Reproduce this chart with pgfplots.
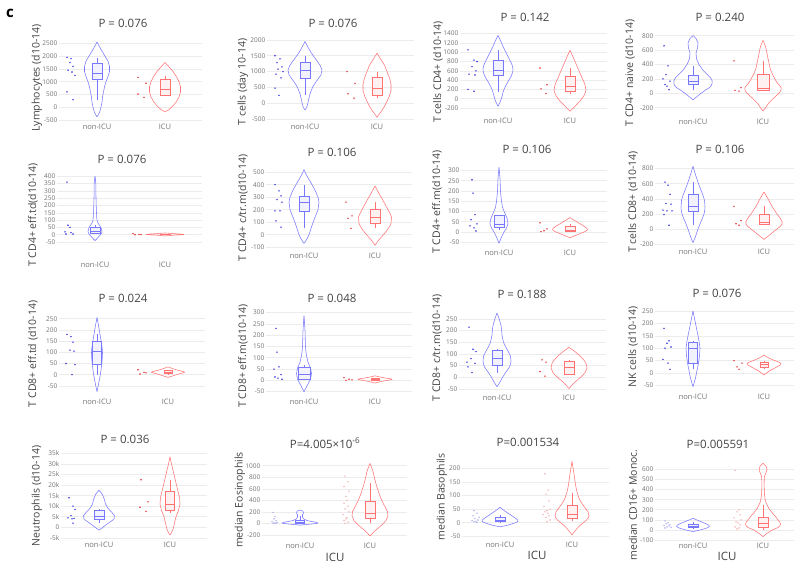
\documentclass[border=0pt]{standalone}
\usepackage{fontspec}
\setmainfont{Open Sans}
\usepackage{pgfplots}
\usepackage{pgfplotstable}
\pgfplotsset{compat=1.18}
\usepgfplotslibrary{statistics}
\definecolor{vb}{RGB}{120,120,255}
\definecolor{vr}{RGB}{255,115,115}
\definecolor{pb}{RGB}{60,60,225}
\definecolor{pr}{RGB}{230,60,60}
\definecolor{pbp}{RGB}{180,180,240}
\definecolor{prp}{RGB}{245,180,180}
\definecolor{tk}{RGB}{115,115,115}
\definecolor{tt}{RGB}{68,68,68}
\definecolor{gr}{RGB}{236,236,236}
\pgfplotsset{
 vp/.style={scale only axis, anchor=south west, xmin=-38, clip=false,
   axis line style={draw=none}, major tick style={draw=none},
   ymajorgrids, major grid style={draw=gr, line width=0.6pt},
   xticklabels={non-ICU,ICU},
   xticklabel style={font=\fontsize{7.5}{8}\selectfont, text=tk, inner ysep=2pt},
   yticklabel style={font=\fontsize{6.5}{7}\selectfont, text=tk, inner xsep=1.5pt},
   /pgf/number format/assume math mode=true,
   /pgf/number format/1000 sep={},
   scaled y ticks=false,
 },
 vl/.style={smooth, tension=0.7, line width=0.55pt, no marks, line join=round},
}
\tikzset{
 ttl/.style={font=\fontsize{11.5}{12}\selectfont, text=tt},
 ylab/.style={rotate=90, font=\fontsize{10.5}{11}\selectfont, text=tt},
}
\newcommand{\vio}[3]{\addplot[vl,#1] table[x expr={#2+\thisrow{w}},y=v]{#3};
\addplot[vl,#1] table[x expr={#2-\thisrow{w}},y=v]{#3};}
\newcommand{\bx}[8]{\addplot[#1,line width=0.55pt,fill=#1!10,boxplot prepared={draw direction=y,draw position=#2,box extend=#3,lower whisker=#4,lower quartile=#5,median=#6,upper quartile=#7,upper whisker=#8,whisker extend=0}] coordinates {};}
% points: colour, shift of the category, (offset,value) pairs
\newcommand{\pts}[3]{\addplot[only marks, mark=*, mark size=0.5pt, color=#1, x filter/.expression={x+#2}] coordinates {#3};}

\begin{document}
% ---------- violin outlines: v = value, w = half width (px) ----------
\pgfplotstableread{
v w
2550 0
2400 2
2200 5
2000 8
1800 11
1600 12.5
1400 12.5
1200 11
1000 9
800 7.5
600 6.5
400 5.5
200 5
0 4
-200 2.5
-370 0
}\vAn
\pgfplotstableread{
v w
1750 0
1600 3.5
1400 8
1200 11.5
1000 14
800 15.5
600 15.5
400 14
200 11
0 6.5
-100 3.5
-170 0
}\vAi
\pgfplotstableread{
v w
1950 0
1800 2.5
1600 6
1400 10.5
1200 15
1050 17
900 16
700 11.5
500 7.5
300 5
100 3.5
-100 2
-210 0
}\vBn
\pgfplotstableread{
v w
1580 0
1400 3.5
1200 7.5
1000 10
800 12.5
600 14
400 14
200 12
0 9
-200 5.5
-350 2
-440 0
}\vBi
\pgfplotstableread{
v w
1360 0
1250 2.5
1100 5.5
950 9
800 12.5
650 15
500 13.5
350 9.5
200 6
50 4
-50 2.5
-160 0
}\vCn
\pgfplotstableread{
v w
1040 0
900 3
750 6
600 9
450 12
300 15
180 16
50 13.5
-50 10
-150 5.5
-270 0
}\vCi
\pgfplotstableread{
v w
800 0
760 3
700 5
630 4.5
560 3
480 3.5
400 6
320 10
250 15
180 19
100 18
50 13
0 8
-50 3.5
-90 0
}\vDn
\pgfplotstableread{
v w
735 0
650 2.5
550 4
450 5.5
350 7
250 10
150 14
80 18
20 17
-50 12
-130 6
-200 2.5
-245 0
}\vDi
\pgfplotstableread{
v w
400 0
350 0.8
250 1
150 1.5
100 2
80 3
60 5
40 6.5
20 7
5 6
-15 3.5
-30 1.5
-40 0
}\vEn
\pgfplotstableread{
v w
12 0
8 8
4 16
2 19
0 16
-3 9
-8 0
}\vEi
\pgfplotstableread{
v w
520 0
470 3
400 8
330 12.5
260 15
200 14
130 10.5
50 7
0 5
-40 2.5
-70 0
}\vFn
\pgfplotstableread{
v w
390 0
330 4
260 9
200 13
140 16.5
90 16
40 12.5
0 8.5
-40 4
-85 0
}\vFi
\pgfplotstableread{
v w
315 0
260 1
200 1.5
150 2.5
120 3.5
90 6
60 8.5
40 9
20 7.5
0 5
-25 2.5
-55 0
}\vGn
\pgfplotstableread{
v w
70 0
55 5
40 10
25 15
12 17.5
0 14
-10 9
-20 4
-28 0
}\vGi
\pgfplotstableread{
v w
830 0
720 2.5
600 5.5
480 9
380 11.5
300 12
200 11
100 8
0 5
-100 2.5
-180 0
}\vHn
\pgfplotstableread{
v w
490 0
400 4
300 8
200 13
100 18
40 16.5
-20 11
-80 5.5
-137 0
}\vHi
\pgfplotstableread{
v w
255 0
220 1.5
180 3
140 4.5
100 5.5
60 5
20 4
-20 2.5
-50 1.2
-75 0
}\vIn
\pgfplotstableread{
v w
35 0
25 6
15 14
10 16.5
5 12
-5 5
-12 0
}\vIi
\pgfplotstableread{
v w
285 0
220 1
150 1.5
110 2.5
80 4
55 6.5
30 7.5
5 6.5
-20 3.5
-50 0
}\vJn
\pgfplotstableread{
v w
20 0
12 8
5 17
0 12
-5 6
-12 0
}\vJi
\pgfplotstableread{
v w
275 0
245 2.5
210 4.5
180 5
150 6.5
120 10
90 13.5
70 14
45 12.5
20 8.5
0 5.5
-20 3
-40 0
}\vKn
\pgfplotstableread{
v w
128 0
110 6
85 12.5
60 17
40 18
20 16
0 11.5
-20 6
-48 0
}\vKi
\pgfplotstableread{
v w
250 0
210 2
170 4
130 6
100 7
70 6.5
40 5.5
10 4
-20 2.5
-55 0
}\vLn
\pgfplotstableread{
v w
72 0
60 5
48 12
38 17
25 13
12 7
0 2.5
-8 0
}\vLi
\pgfplotstableread{
v w
17.5 0
15.5 3.5
13 5.5
11 6.5
9 9
7 13
5.5 15.5
4 15
2.5 11
1 6.5
-0.5 2.5
-1.3 0
}\vMn
\pgfplotstableread{
v w
33.3 0
30 1.5
26 3.5
22 5.5
18 7.5
14 9.5
11 10
8 8.5
5 6
2 4.5
-1 3
-3.6 0
}\vMi
\pgfplotstableread{
v w
230 0
210 3
180 3.5
150 2.5
110 2.5
70 4
45 8
25 14
10 17.5
0 17
-12 11
-22 5
-30 0
}\vNn
\pgfplotstableread{
v w
1040 0
900 3
750 5
600 7.5
450 10.5
320 14
200 17.5
130 18
50 16
-40 11
-120 5.5
-220 0
}\vNi
\pgfplotstableread{
v w
57 0
45 4
30 10
15 16
5 18
-3 13
-10 6.5
-15 0
}\vOn
\pgfplotstableread{
v w
225 0
180 2
130 4
90 7
60 12
40 16
25 17
10 14.5
-10 8
-30 3
-45 0
}\vOi
\pgfplotstableread{
v w
115 0
95 5
70 11
45 16
25 15
5 9
-5 5
-15 0
}\vPn
\pgfplotstableread{
v w
660 0
630 3
600 4
570 3
530 1.5
450 1.2
350 1.5
270 3
210 6
150 11
100 15
60 17.5
25 15
0 9
-30 4.5
-65 0
}\vPi
\begin{tikzpicture}
\useasboundingbox (0pt,0pt) rectangle (794pt,-568pt);
% ===== Row 1 =====
\begin{axis}[vp, at={(59pt,-122pt)}, xtick={0,68}, xmax=105, width=143pt,
  ymin=-574, ymax=2670, height=83pt, ytick={-500,0,...,2500}]
\vio{vb}{0}{\vAn} \vio{vr}{68}{\vAi}
\bx{vb}{0}{10}{285}{1090}{1330}{1740}{1940}
\bx{vr}{68}{10}{450}{470}{700}{1100}{1230}
\pts{pb}{0}{(-30,1950) (-26,1900) (-27,1750) (-24,1600) (-29,1450) (-25,1380) (-22,1250) (-30,600) (-24,300)}
\pts{pr}{68}{(-27,1170) (-19,940) (-27,520) (-21,390)}
\end{axis}
\begin{axis}[vp, at={(267pt,-122pt)}, xtick={0,72}, xmax=109, width=147pt,
  ymin=-590, ymax=2100, height=85.3pt, ytick={-500,0,...,2000}]
\vio{vb}{0}{\vBn} \vio{vr}{72}{\vBi}
\bx{vb}{0}{10}{250}{800}{1050}{1300}{1500}
\bx{vr}{72}{10}{170}{250}{470}{820}{1000}
\pts{pb}{0}{(-30,1500) (-25,1400) (-28,1280) (-23,1150) (-27,1080) (-22,1000) (-29,920) (-24,800) (-30,480) (-26,250)}
\pts{pr}{72}{(-30,1000) (-22,630) (-29,300) (-23,160)}
\end{axis}
\begin{axis}[vp, at={(460pt,-115.7pt)}, xtick={0,72}, xmax=109, width=147pt,
  ymin=-366, ymax=1450, height=84.4pt, ytick={-200,0,...,1400}]
\vio{vb}{0}{\vCn} \vio{vr}{72}{\vCi}
\bx{vb}{0}{10}{150}{500}{610}{820}{1050}
\bx{vr}{72}{10}{100}{160}{260}{480}{660}
\pts{pb}{0}{(-30,1050) (-24,830) (-21,800) (-26,690) (-22,600) (-29,530) (-23,510) (-30,200) (-24,160)}
\pts{pr}{72}{(-30,660) (-23,300) (-29,210) (-24,110)}
\end{axis}
\begin{axis}[vp, at={(655pt,-117.3pt)}, xtick={0,70}, xmax=107, width=145pt,
  ymin=-333, ymax=850, height=85.2pt, ytick={-200,0,...,800}]
\vio{vb}{0}{\vDn} \vio{vr}{70}{\vDi}
\bx{vb}{0}{10}{40}{120}{170}{250}{380}
\bx{vr}{70}{12}{30}{40}{70}{270}{450}
\pts{pb}{0}{(-29,660) (-25,380) (-27,260) (-30,200) (-23,170) (-28,120) (-26,100) (-24,50)}
\pts{pr}{70}{(-29,450) (-22,80) (-28,40) (-24,30)}
\end{axis}
% ===== Row 2 =====
\begin{axis}[vp, at={(57pt,-260pt)}, xtick={0,70}, xmax=107, width=145pt,
  ymin=-173, ymax=420, height=86.6pt, ytick={-50,0,...,400}]
\vio{vb}{0}{\vEn} \vio{vr}{70}{\vEi}
\bx{vb}{0}{10}{5}{10}{25}{50}{70}
\bx{vr}{70}{10}{0}{0}{2}{5}{8}
\pts{pb}{0}{(-28,360) (-27,65) (-25,50) (-30,20) (-24,15) (-29,5) (-22,5)}
\pts{pr}{70}{(-32,8) (-26,3) (-24,1) (-30,0)}
\end{axis}
\begin{axis}[vp, at={(266pt,-250.7pt)}, xtick={0,71}, xmax=108, width=146pt,
  ymin=-128, ymax=560, height=86pt, ytick={-100,0,...,500}]
\vio{vb}{0}{\vFn} \vio{vr}{71}{\vFi}
\bx{vb}{0}{10}{50}{190}{260}{310}{400}
\bx{vr}{71}{10}{50}{90}{140}{200}{260}
\pts{pb}{0}{(-29,400) (-25,350) (-23,310) (-27,280) (-22,260) (-29,190) (-24,190) (-28,110) (-23,60)}
\pts{pr}{71}{(-29,260) (-23,150) (-27,130) (-24,50)}
\end{axis}
\begin{axis}[vp, at={(461pt,-248.3pt)}, xtick={0,71}, xmax=108, width=146pt,
  ymin=-79.6, ymax=330, height=83.9pt, ytick={-50,0,...,300}]
\vio{vb}{0}{\vGn} \vio{vr}{71}{\vGi}
\bx{vb}{0}{10}{10}{25}{40}{80}{85}
\bx{vr}{71}{10}{0}{5}{10}{30}{40}
\pts{pb}{0}{(-27,255) (-26,190) (-24,85) (-28,60) (-22,40) (-29,30) (-25,20) (-23,5)}
\pts{pr}{71}{(-30,45) (-23,15) (-26,6) (-29,2)}
\end{axis}
\begin{axis}[vp, at={(655pt,-247.3pt)}, xtick={0,71}, xmax=108, width=146pt,
  ymin=-242, ymax=870, height=84pt, ytick={-200,0,...,800}]
\vio{vb}{0}{\vHn} \vio{vr}{71}{\vHi}
\bx{vb}{0}{10}{50}{240}{300}{460}{620}
\bx{vr}{71}{10}{50}{60}{90}{200}{300}
\pts{pb}{0}{(-28,620) (-25,580) (-23,460) (-27,340) (-22,330) (-30,250) (-26,240) (-21,240) (-29,190) (-24,50)}
\pts{pr}{71}{(-30,300) (-23,110) (-28,70) (-25,50)}
\end{axis}
% ===== Row 3 =====
\begin{axis}[vp, at={(59pt,-397.3pt)}, xtick={0,71}, xmax=108, width=146pt,
  ymin=-101, ymax=270, height=83.1pt, ytick={-50,0,...,250}]
\vio{vb}{0}{\vIn} \vio{vr}{71}{\vIi}
\bx{vb}{0}{9}{0}{48}{104}{150}{180}
\bx{vr}{71}{8}{3}{5}{12}{18}{22}
\pts{pb}{0}{(-30,180) (-26,170) (-24,145) (-27,110) (-23,105) (-31,50) (-22,45) (-25,0)}
\pts{pr}{71}{(-30,22) (-24,10) (-22,8) (-28,3)}
\end{axis}
\begin{axis}[vp, at={(266pt,-397.3pt)}, xtick={0,71}, xmax=108, width=146pt,
  ymin=-75, ymax=310, height=87pt, ytick={-50,0,...,300}]
\vio{vb}{0}{\vJn} \vio{vr}{71}{\vJi}
\bx{vb}{0}{12}{0}{5}{25}{60}{70}
\bx{vr}{71}{8}{0}{0}{3}{8}{10}
\pts{pb}{0}{(-28,230) (-27,125) (-25,60) (-30,50) (-23,25) (-29,15) (-26,10) (-22,5)}
\pts{pr}{71}{(-31,12) (-26,5) (-23,2) (-29,0)}
\end{axis}
\begin{axis}[vp, at={(459pt,-393pt)}, xtick={0,72}, xmax=109, width=147pt,
  ymin=-67, ymax=290, height=83.5pt, ytick={-50,0,...,250}]
\vio{vb}{0}{\vKn} \vio{vr}{72}{\vKi}
\bx{vb}{0}{10}{20}{50}{80}{115}{120}
\bx{vr}{72}{10}{10}{15}{45}{70}{72}
\pts{pb}{0}{(-28,215) (-24,120) (-21,110) (-26,80) (-30,65) (-22,60) (-29,45) (-25,20)}
\pts{pr}{72}{(-27,75) (-23,65) (-29,25) (-24,5)}
\end{axis}
\begin{axis}[vp, at={(655pt,-391.7pt)}, xtick={0,71}, xmax=108, width=146pt,
  ymin=-75.4, ymax=265, height=84.4pt, ytick={-50,0,...,250}]
\vio{vb}{0}{\vLn} \vio{vr}{71}{\vLi}
\bx{vb}{0}{9}{15}{40}{100}{125}{130}
\bx{vr}{71}{8}{15}{25}{35}{45}{50}
\pts{pb}{0}{(-29,180) (-24,130) (-26,120) (-22,105) (-28,100) (-30,55) (-25,40) (-23,15)}
\pts{pr}{71}{(-30,50) (-22,40) (-27,25) (-25,15)}
\end{axis}
% ===== Row 4 (neutrophils in thousands) =====
\begin{axis}[vp, at={(61pt,-539.7pt)}, xtick={0,71}, xmax=108, width=146pt,
  ymin=-5.866, ymax=37, height=90.6pt, ytick={-5,0,...,35},
  yticklabels={-5k,0,5k,10k,15k,20k,25k,30k,35k}]
\vio{vb}{0}{\vMn} \vio{vr}{71}{\vMi}
\bx{vb}{0}{10}{2}{4}{5.3}{8}{8.5}
\bx{vr}{71}{9}{6.8}{8.2}{11}{17.2}{22.4}
\pts{pb}{0}{(-30,14) (-26,10) (-24,8.5) (-28,5.5) (-31,4.5) (-25,4.2) (-27,4) (-26,2)}
\pts{pr}{71}{(-29,22.5) (-22,12) (-30,9.5) (-24,7.5)}
\end{axis}
\begin{axis}[vp, at={(262pt,-541.3pt)}, xtick={0,70}, xmax=107, width=145pt,
  ymin=-312, ymax=1100, height=81.3pt, ytick={-200,0,...,1000}]
\vio{vb}{0}{\vNn} \vio{vr}{70}{\vNi}
\bx{vb}{0}{9}{0}{0}{15}{50}{120}
\bx{vr}{70}{10}{0}{80}{170}{380}{700}
\pts{pbp}{0}{(-27,190) (-25,120) (-26,80) (-24,50) (-28,30) (-23,15) (-26,8) (-25,3) (-27,0) (-24,0)}
\pts{prp}{70}{(-25,820) (-22,720) (-26,640) (-21,560) (-24,470) (-23,400) (-26,350) (-22,300) (-25,250) (-21,200) (-27,150) (-23,100) (-24,80) (-26,50) (-22,20) (-25,0)}
\end{axis}
\begin{axis}[vp, at={(462pt,-539.7pt)}, xtick={0,72}, xmax=109, width=147pt,
  ymin=-62.5, ymax=235, height=80.9pt, ytick={-50,0,...,200}]
\vio{vb}{0}{\vOn} \vio{vr}{72}{\vOi}
\bx{vb}{0}{10}{0}{5}{10}{20}{30}
\bx{vr}{72}{10}{5}{15}{30}{65}{110}
\pts{pbp}{0}{(-26,45) (-23,35) (-27,25) (-21,20) (-25,15) (-22,10) (-28,8) (-24,5) (-26,3) (-23,0)}
\pts{prp}{72}{(-27,180) (-24,120) (-26,105) (-23,80) (-28,60) (-22,50) (-25,45) (-27,40) (-24,35) (-29,30) (-23,25) (-26,20) (-22,10) (-25,5)}
\end{axis}
\begin{axis}[vp, at={(655pt,-541.3pt)}, xtick={0,70}, xmax=107, width=145pt,
  ymin=-112, ymax=690, height=81pt, ytick={-100,0,...,600}]
\vio{vb}{0}{\vPn} \vio{vr}{70}{\vPi}
\bx{vb}{0}{10}{10}{25}{40}{60}{80}
\bx{vr}{70}{10}{0}{30}{70}{130}{250}
\pts{pbp}{0}{(-28,90) (-25,70) (-27,60) (-23,50) (-29,45) (-24,40) (-26,30) (-22,25) (-28,20)}
\pts{prp}{70}{(-28,590) (-24,200) (-26,180) (-23,150) (-29,120) (-22,100) (-27,80) (-25,70) (-23,50) (-28,30) (-24,20) (-26,10)}
\end{axis}
% ===== titles and labels =====
\node[font=\bfseries\fontsize{15}{15}\selectfont] at (10pt,-13pt) {c};
\node[ttl] at (123pt,-23pt) {P = 0.076};
\node[ttl] at (333pt,-23pt) {P = 0.076};
\node[ttl] at (525pt,-17pt) {P = 0.142};
\node[ttl] at (720pt,-17pt) {P = 0.240};
\node[ttl] at (122pt,-159pt) {P = 0.076};
\node[ttl] at (332pt,-152pt) {P = 0.106};
\node[ttl] at (527pt,-149pt) {P = 0.106};
\node[ttl] at (720pt,-149pt) {P = 0.106};
\node[ttl] at (123pt,-298pt) {P = 0.024};
\node[ttl] at (332pt,-298pt) {P = 0.048};
\node[ttl] at (522pt,-294pt) {P = 0.188};
\node[ttl] at (717pt,-293pt) {P = 0.076};
\node[ttl] at (125pt,-439pt) {P = 0.036};
\node[ttl] at (325pt,-443pt) {P=4.005×10\textsuperscript{-6}};
\node[ttl] at (528pt,-442pt) {P=0.001534};
\node[ttl] at (718pt,-444pt) {P=0.005591};
\node[ylab] at (37pt,-78pt) {Lymphocytes (d10-14)};
\node[ylab] at (243pt,-82pt) {T cells (day 10-14)};
\node[ylab] at (438pt,-72pt) {T cells CD4+ (d10-14)};
\node[ylab] at (630pt,-73pt) {T CD4+ naive (d10-14)};
\node[ylab] at (33pt,-215pt) {T CD4+ eff.td(d10-14)};
\node[ylab] at (243pt,-208pt) {T CD4+ c/tr.m(d10-14)};
\node[ylab] at (437pt,-202pt) {T CD4+ eff.m(d10-14)};
\node[ylab] at (633pt,-202pt) {T cells CD8+ (d10-14)};
\node[ylab] at (33pt,-354pt) {T CD8+ eff.td (d10-14)};
\node[ylab] at (243pt,-356pt) {T CD8+ eff.m(d10-14)};
\node[ylab] at (437pt,-348pt) {T CD8+ c/tr.m(d10-14)};
\node[ylab] at (633pt,-347pt) {NK cells (d10-14)};
\node[ylab] at (37pt,-496pt) {Neutrophils (d10-14)};
\node[ylab] at (240pt,-500pt) {median Eosinophils};
\node[ylab] at (442pt,-497pt) {median Basophils};
\node[ylab] at (633pt,-505pt) {median CD16+ Monoc.};
\node[ttl] at (335pt,-557pt) {ICU};
\node[ttl] at (537pt,-555pt) {ICU};
\node[ttl] at (727pt,-556pt) {ICU};
\end{tikzpicture}
\end{document}
